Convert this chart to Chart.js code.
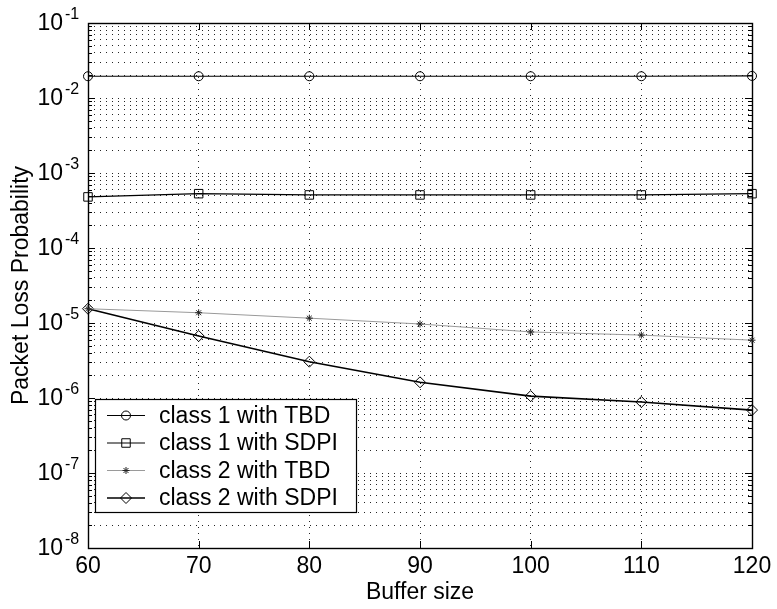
<!DOCTYPE html>
<html>
<head>
<meta charset="utf-8">
<script src="https://cdn.jsdelivr.net/npm/chart.js@4/dist/chart.umd.min.js"></script>
<style>
    body { margin: 0; background: #fff; }
    canvas { display: block; }
</style>
</head>
<body>
<canvas id="chart" width="777" height="609"></canvas>
<script>
// data
var bufferSizes = [60, 70, 80, 90, 100, 110, 120];
var class1TBD = [1.95e-2, 1.95e-2, 1.95e-2, 1.95e-2, 1.95e-2, 1.95e-2, 1.97e-2];
var class1SDPI = [4.8e-4, 5.3e-4, 5.1e-4, 5.1e-4, 5.1e-4, 5.1e-4, 5.3e-4];
var class2TBD = [1.55e-5, 1.37e-5, 1.16e-5, 9.7e-6, 7.6e-6, 6.9e-6, 5.9e-6];
var class2SDPI = [1.55e-5, 6.7e-6, 3.05e-6, 1.62e-6, 1.06e-6, 8.85e-7, 6.9e-7];
var yExponents = [-8, -7, -6, -5, -4, -3, -2, -1];
var seriesLabels = ["class 1 with TBD", "class 1 with SDPI", "class 2 with TBD", "class 2 with SDPI"];

var FONT = "'Liberation Sans', Arial, Helvetica, sans-serif";

Chart.defaults.color = "#000";
Chart.defaults.font.family = FONT;

function points(values) {
    return bufferSizes.map(function(b, i) {
        return { x: b, y: values[i] };
    });
}

function series(label, values, style) {
    return Object.assign({
        label: label,
        data: points(values),
        borderColor: "#000",
        borderWidth: 1.2,
        pointBorderColor: "#000",
        pointBackgroundColor: "rgba(0,0,0,0)",
        pointBorderWidth: 1,
        tension: 0,
        clip: false
    }, style);
}

// frame, inward ticks and the 10^n labels
var axesDecor = {
    id: "axesDecor",
    beforeDatasetsDraw: function(chart) {
        var ctx = chart.ctx, a = chart.chartArea;
        var xs = chart.scales.x, ys = chart.scales.y;
        ctx.save();
        ctx.strokeStyle = "#000";
        ctx.lineWidth = 1;
        ctx.beginPath();
        ys.ticks.forEach(function(t) {
            var y = Math.round(ys.getPixelForValue(t.value)) + 0.5;
            var len = Math.abs(Math.log10(t.value) - Math.round(Math.log10(t.value))) < 1e-9 ? 7 : 4;
            ctx.moveTo(a.left, y); ctx.lineTo(a.left + len, y);
            ctx.moveTo(a.right, y); ctx.lineTo(a.right - len, y);
        });
        xs.ticks.forEach(function(t) {
            var x = Math.round(xs.getPixelForValue(t.value)) + 0.5;
            ctx.moveTo(x, a.bottom); ctx.lineTo(x, a.bottom - 7);
            ctx.moveTo(x, a.top); ctx.lineTo(x, a.top + 7);
        });
        ctx.stroke();
        ctx.lineWidth = 1.4;
        ctx.strokeRect(a.left + 0.5, a.top + 0.5, a.right - a.left, a.bottom - a.top);

        ctx.fillStyle = "#000";
        yExponents.forEach(function(e) {
            var y = ys.getPixelForValue(Math.pow(10, e));
            ctx.font = "23px " + FONT;
            ctx.textAlign = "right";
            ctx.textBaseline = "middle";
            ctx.fillText("10", 63, y + 1);
            ctx.font = "16px " + FONT;
            ctx.textAlign = "left";
            ctx.fillText("-" + Math.abs(e), 65, y - 8);
        });
        ctx.restore();
    },
    afterDraw: function(chart) {
        // legend box in the lower left corner
        var ctx = chart.ctx;
        var box = { x: 95, y: 399, w: 261, h: 113 };
        var rows = [415.5, 443, 470.5, 498];
        ctx.save();
        ctx.fillStyle = "#fff";
        ctx.fillRect(box.x, box.y, box.w, box.h);
        ctx.strokeStyle = "#000";
        ctx.lineWidth = 1.2;
        ctx.strokeRect(box.x + 0.5, box.y + 0.5, box.w, box.h);
        chart.data.datasets.forEach(function(ds, i) {
            var y = rows[i];
            ctx.strokeStyle = ds.borderColor;
            ctx.lineWidth = ds.borderWidth;
            ctx.beginPath();
            ctx.moveTo(107, y);
            ctx.lineTo(145, y);
            ctx.stroke();
            ctx.strokeStyle = ds.pointBorderColor;
            ctx.fillStyle = ds.pointBackgroundColor;
            ctx.lineWidth = ds.pointBorderWidth;
            Chart.helpers.drawPoint(ctx, {
                pointStyle: ds.pointStyle,
                radius: ds.pointRadius,
                rotation: 0,
                borderWidth: ds.pointBorderWidth
            }, 126, y);
            ctx.fillStyle = "#000";
            ctx.font = "23px " + FONT;
            ctx.textAlign = "left";
            ctx.textBaseline = "middle";
            ctx.fillText(ds.label, 159, y + 1);
        });
        ctx.restore();
    }
};

var dotted = {
    color: "rgba(0,0,0,0.85)",
    lineWidth: 1,
    drawTicks: false
};

new Chart(document.getElementById("chart"), {
    type: "line",
    data: {
        datasets: [
            series(seriesLabels[0], class1TBD, { pointStyle: "circle", pointRadius: 4.5 }),
            series(seriesLabels[1], class1SDPI, { pointStyle: "rect", pointRadius: 6 }),
            series(seriesLabels[2], class2TBD, {
                pointStyle: "star",
                pointRadius: 3.5,
                borderColor: "#9a9a9a",
                borderWidth: 1,
                pointBorderColor: "#222"
            }),
            series(seriesLabels[3], class2SDPI, { pointStyle: "rectRot", pointRadius: 5.5, borderWidth: 1.6 })
        ]
    },
    options: {
        responsive: false,
        animation: false,
        devicePixelRatio: 1,
        layout: { padding: { top: 23, right: 25, left: 0, bottom: 0 } },
        plugins: {
            legend: { display: false },
            tooltip: { enabled: false }
        },
        scales: {
            x: {
                type: "linear",
                min: 60,
                max: 120,
                grid: dotted,
                border: { display: false, dash: [1, 5] },
                ticks: {
                    stepSize: 10,
                    padding: 5,
                    color: "#000",
                    font: { size: 23 }
                },
                title: {
                    display: true,
                    text: "Buffer size",
                    color: "#000",
                    font: { size: 23 },
                    padding: { top: 0, bottom: 3 }
                },
                afterFit: function(scale) {
                    scale.height = 61;
                }
            },
            y: {
                type: "logarithmic",
                min: 1e-8,
                max: 1e-1,
                grid: dotted,
                border: { display: false, dash: [1, 5] },
                ticks: { display: false },
                afterBuildTicks: function(scale) {
                    var ticks = [];
                    yExponents.forEach(function(e) {
                        if (e === -1) {
                            ticks.push({ value: Math.pow(10, e) });
                            return;
                        }
                        for (var m = 1; m < 10; m++) {
                            ticks.push({ value: m * Math.pow(10, e) });
                        }
                    });
                    scale.ticks = ticks;
                },
                title: {
                    display: true,
                    text: "Packet Loss Probability",
                    color: "#000",
                    font: { size: 23 },
                    padding: { top: 8, bottom: 0 }
                },
                afterFit: function(scale) {
                    scale.width = 88;
                }
            }
        }
    },
    plugins: [axesDecor]
});
</script>
</body>
</html>
